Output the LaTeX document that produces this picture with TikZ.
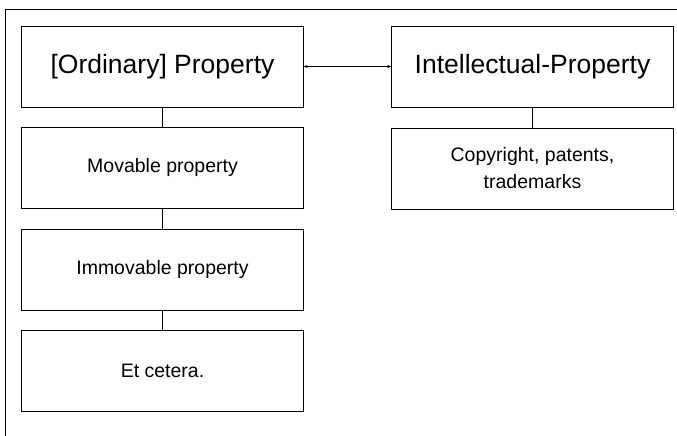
\documentclass[tikz,border=0pt]{standalone}
\usepackage{fontspec}
\setmainfont{Liberation Sans}
\usetikzlibrary{arrows.meta}

\begin{document}
\begin{tikzpicture}[x=1pt,y=-1pt]
\tikzstyle{every node}=[rectangle,draw,thin,minimum width=282pt,minimum height=81pt,inner sep=2pt,align=center,font=\fontsize{19.5}{27}\selectfont]
\tikzstyle{head}=[font=\fontsize{26.5}{30}\selectfont]
\useasboundingbox (0,0) rectangle (677,436);
\draw [thick] (5,436) -- (5,9) -- (677,9);
\node [head] (prop) at (162.5,66.5) {[Ordinary] Property};
\node [head] (ip) at (532.5,66.5) {Intellectual-Property};
\node (mov) at (162.5,167.5) {Movable property};
\node (imm) at (162.5,269.5) {Immovable property};
\node (etc) at (162.5,370.5) {Et cetera.};
\node (copy) at (532.5,168.5) {Copyright, patents,\\trademarks};
\draw [{Stealth[length=4pt]}-{Stealth[length=4pt]}] (prop) -- (ip);
\draw (prop) -- (mov);
\draw (mov) -- (imm);
\draw (imm) -- (etc);
\draw (ip) -- (copy);
\end{tikzpicture}
\end{document}
